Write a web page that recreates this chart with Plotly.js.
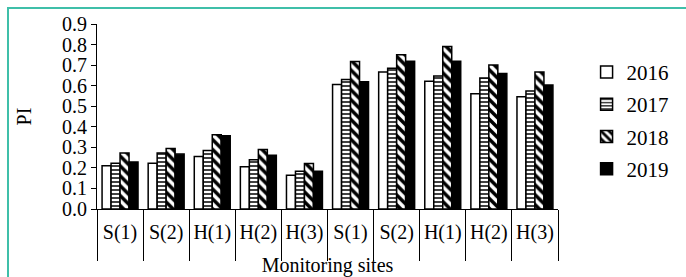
<!DOCTYPE html>
<html>
<head>
<meta charset="utf-8">
<script src="https://cdn.plot.ly/plotly-3.0.1.min.js"></script>
<style>
  html, body { margin: 0; padding: 0; background: #fff; }
  #wrap { position: relative; width: 686px; height: 277px; overflow: hidden; }
  #chart { position: absolute; left: 0; top: 0; width: 686px; height: 277px; }
  #frame { position: absolute; left: 7px; top: 7px; width: 700px; height: 300px;
           border-left: 2px solid #3fbfa9; border-top: 2px solid #3fbfa9; pointer-events: none; }
</style>
</head>
<body>
<div id="wrap">
  <div id="chart"></div>
  <div id="frame"></div>
</div>
<script>
const sites = ["S(1)", "S(2)", "H(1)", "H(2)", "H(3)", "S(1)", "S(2)", "H(1)", "H(2)", "H(3)"];
const years = ["2016", "2017", "2018", "2019"];
const pi2016 = [0.210, 0.223, 0.255, 0.205, 0.164, 0.606, 0.666, 0.622, 0.561, 0.546];
const pi2017 = [0.223, 0.273, 0.285, 0.240, 0.184, 0.630, 0.685, 0.647, 0.637, 0.574];
const pi2018 = [0.273, 0.294, 0.361, 0.289, 0.221, 0.717, 0.751, 0.790, 0.701, 0.667];
const pi2019 = [0.229, 0.267, 0.356, 0.262, 0.184, 0.619, 0.719, 0.719, 0.659, 0.603];
const yTicks = [0, 0.1, 0.2, 0.3, 0.4, 0.5, 0.6, 0.7, 0.8, 0.9];

const idx = sites.map((_, i) => i);
const FONT = "Liberation Serif, Times New Roman, serif";

const styles = [
  { color: "#ffffff", pattern: { shape: "" } },
  { color: "#ffffff", pattern: { shape: "-", fgcolor: "#111", bgcolor: "#fff", size: 4, solidity: 0.4, fillmode: "replace" } },
  { color: "#ffffff", pattern: { shape: "\\", fgcolor: "#000", bgcolor: "#fff", size: 7, solidity: 0.5, fillmode: "replace" } },
  { color: "#000000", pattern: { shape: "" } }
];
const series = [pi2016, pi2017, pi2018, pi2019];

const traces = series.map((vals, k) => ({
  type: "bar",
  name: years[k],
  x: idx,
  y: vals,
  legendgroup: years[k],
  marker: {
    color: styles[k].color,
    pattern: styles[k].pattern,
    line: { color: "#000", width: 1.5 }
  },
  hoverinfo: "skip"
}));

const layout = {
  width: 686,
  height: 277,
  margin: { l: 97, r: 87, t: 24, b: 68 },
  paper_bgcolor: "#fff",
  plot_bgcolor: "#fff",
  font: { family: FONT, size: 20, color: "#000" },
  barmode: "group",
  bargap: 0.22,
  bargroupgap: 0,
  showlegend: true,
  legend: {
    x: 1.062, y: 0.85, xanchor: "left", yanchor: "top",
    font: { family: FONT, size: 21, color: "#000" },
    traceorder: "grouped",
    tracegroupgap: 2,
    bgcolor: "rgba(0,0,0,0)"
  },
  xaxis: {
    range: [-0.5, sites.length - 0.5],
    tickmode: "array",
    tickvals: idx,
    ticktext: sites,
    ticks: "",
    ticklabelstandoff: 5,
    showline: true,
    linecolor: "#000",
    linewidth: 1,
    showgrid: false,
    zeroline: false,
    minor: { ticks: "outside", ticklen: 51, tick0: -0.5, dtick: 1, tickcolor: "#000", tickwidth: 1, showgrid: false },
    tickfont: { family: FONT, size: 20, color: "#000" },
    title: { text: "Monitoring sites", font: { family: FONT, size: 20, color: "#000" }, standoff: 16 },
    automargin: false,
    fixedrange: true
  },
  yaxis: {
    range: [0, 0.9],
    tickmode: "array",
    tickvals: yTicks,
    tickformat: ".1f",
    ticks: "outside",
    ticklen: 5,
    tickcolor: "#000",
    showline: true,
    linecolor: "#000",
    linewidth: 1,
    showgrid: false,
    zeroline: false,
    tickfont: { family: FONT, size: 20, color: "#000" },
    title: { text: "PI", font: { family: FONT, size: 20, color: "#000" }, standoff: 25 },
    automargin: false,
    fixedrange: true
  }
};

Plotly.newPlot("chart", traces, layout, { staticPlot: true, displayModeBar: false });
</script>
</body>
</html>
